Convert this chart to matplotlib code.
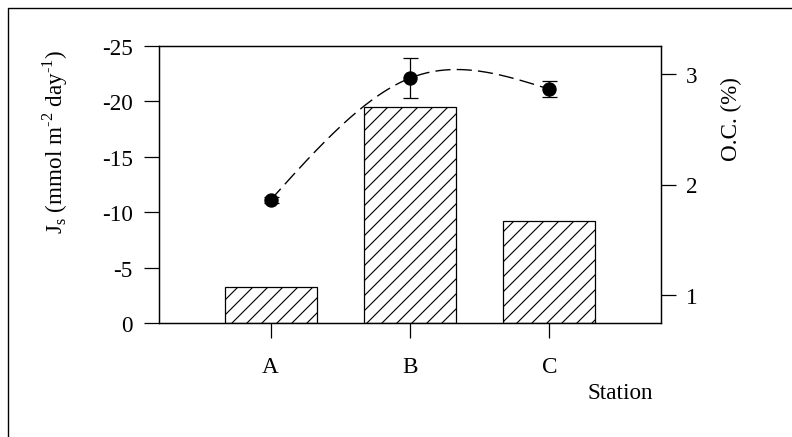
import matplotlib
matplotlib.use('Agg')
import matplotlib.pyplot as plt
from matplotlib.lines import Line2D
import numpy as np

plt.rcParams['font.family'] = ['Liberation Serif', 'DejaVu Serif']
plt.rcParams['mathtext.fontset'] = 'custom'
plt.rcParams['mathtext.rm'] = 'Liberation Serif'
plt.rcParams['axes.unicode_minus'] = False
plt.rcParams['hatch.linewidth'] = 0.9

stations = ['A', 'B', 'C']
js = [-3.25, -19.5, -9.25]        # sulfate flux, mmol m-2 day-1
oc = [1.86, 2.96, 2.86]           # organic carbon, %
oc_err = [0.03, 0.18, 0.07]


def natural_spline(x, y, n=200):
    # natural cubic spline through the points
    x = np.asarray(x, float)
    y = np.asarray(y, float)
    m = len(x)
    h = np.diff(x)
    A = np.zeros((m, m))
    b = np.zeros(m)
    A[0, 0] = A[-1, -1] = 1
    for i in range(1, m - 1):
        A[i, i - 1] = h[i - 1]
        A[i, i] = 2 * (h[i - 1] + h[i])
        A[i, i + 1] = h[i]
        b[i] = 6 * ((y[i + 1] - y[i]) / h[i] - (y[i] - y[i - 1]) / h[i - 1])
    M = np.linalg.solve(A, b)
    xs = np.linspace(x[0], x[-1], n)
    k = np.clip(np.searchsorted(x, xs) - 1, 0, m - 2)
    t0 = x[k + 1] - xs
    t1 = xs - x[k]
    hk = h[k]
    ys = (M[k] * t0 ** 3 + M[k + 1] * t1 ** 3) / (6 * hk) \
        + (y[k] / hk - M[k] * hk / 6) * t0 + (y[k + 1] / hk - M[k + 1] * hk / 6) * t1
    return xs, ys


fig = plt.figure(figsize=(8.8, 438 / 90), dpi=90)
ax = fig.add_axes([159 / 792, 1 - 324 / 438, 502 / 792, 277 / 438])

x = np.arange(len(stations))
ax.bar(x, js, width=0.66, color='white', edgecolor='black', hatch='//', linewidth=1.0, zorder=2)
ax.set_xlim(-0.8, 2.8)
ax.set_ylim(0, -25)
ax.set_yticks([0, -5, -10, -15, -20, -25])
ax.set_yticklabels(['0', '-5', '-10', '-15', '-20', '-25'])
ax.set_xticks(x)
ax.set_xticklabels(stations)

ax2 = ax.twinx()
ax2.set_ylim(0.75, 3.25)
ax2.set_yticks([1, 2, 3])
xs, ys = natural_spline(x, oc)
ax2.plot(xs, ys, color='black', linewidth=1.1, dashes=(11, 4.5))
ax2.errorbar(x, oc, yerr=oc_err, fmt='o', color='black', markersize=10.5,
             capsize=6, elinewidth=1.0, capthick=1.0)

for a in (ax, ax2):
    for s in a.spines.values():
        s.set_linewidth(1.0)
    a.tick_params(direction='out', length=12, width=1.0, labelsize=18.5)
ax.tick_params(axis='y', pad=9)
ax.tick_params(axis='x', pad=14.5)
ax2.tick_params(axis='y', pad=8)

ax.text(-0.207, 0.657,
        'J$_\\mathregular{s}$ (mmol m$^\\mathregular{\u20102}$ day$^\\mathregular{\u20101}$)',
        transform=ax.transAxes, rotation=90, ha='center', va='center', fontsize=18.5)
ax.text(1.14, 0.74, 'O.C. (%)', transform=ax.transAxes, rotation=90,
        ha='center', va='center', fontsize=18.5)
ax.text(0.918, -0.252, 'Station', transform=ax.transAxes,
        ha='center', va='center', fontsize=18.5)

# border lines along the left and top edges
fx = 8 / 792
fy = 1 - 9 / 438
fig.add_artist(Line2D([fx, fx, 1], [0, fy, fy], transform=fig.transFigure,
                      color='black', linewidth=1.1))

fig.savefig('out.png', dpi=90)
